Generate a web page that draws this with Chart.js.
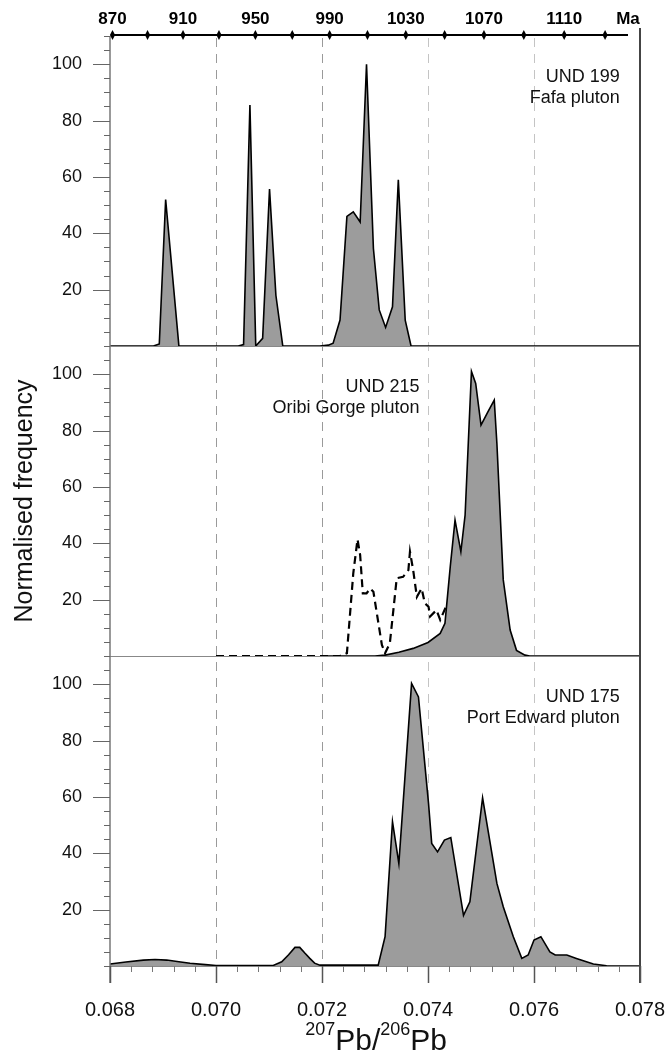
<!DOCTYPE html>
<html><head><meta charset="utf-8">
<script src="https://cdn.jsdelivr.net/npm/chart.js@4"></script>
<style>html,body{margin:0;padding:0;background:#fff}</style>
</head><body>
<canvas id="c" width="669" height="1057"></canvas>
<script>
// ---------- data ----------
const xTickValues = [0.068, 0.070, 0.072, 0.074, 0.076, 0.078];
const xGridValues = [0.070, 0.072, 0.074, 0.076];
const yTickLabels = [20, 40, 60, 80, 100];
const ageTicks = [870, 890, 910, 930, 950, 970, 990, 1010, 1030, 1050, 1070, 1090, 1110, 1130];
const ageLabels = [870, 910, 950, 990, 1030, 1070, 1110];

// UND 199 Fafa pluton
const p1X = [0.068, 0.06882, 0.06893, 0.06905, 0.0693, 0.07042, 0.07052, 0.07064, 0.07075, 0.07088, 0.07101, 0.07113, 0.07126, 0.07196, 0.07212, 0.07221, 0.07234, 0.07247, 0.07259, 0.07272, 0.07284, 0.07297, 0.07308, 0.0732, 0.07333, 0.07344, 0.07357, 0.07368, 0.078];
const p1Y = [0, 0, 0.7, 52, 0, 0, 0.5, 85.5, 0, 2.7, 55.7, 18, 0, 0, 0.3, 1, 9.2, 46, 47.6, 44, 100, 34.6, 12.8, 6.6, 13.9, 59, 9.2, 0, 0];

// UND 215 Oribi Gorge pluton (solid, filled)
const p2X = [0.072, 0.0730, 0.07319, 0.07345, 0.07372, 0.074, 0.07423, 0.07432, 0.07442, 0.07451, 0.07462, 0.0747, 0.07482, 0.0749, 0.075, 0.07512, 0.07525, 0.0753, 0.07542, 0.07555, 0.07567, 0.07583, 0.07592, 0.078];
const p2Y = [0, 0, 0.3, 1.3, 2.7, 4.8, 8, 11.6, 31.7, 48.2, 37, 50, 101, 96.7, 81.9, 86.3, 90.8, 75.4, 27, 9.2, 2, 0.3, 0, 0];
// UND 215 (dashed)
const p2dX = [0.070, 0.07234, 0.07247, 0.07259, 0.07267, 0.07272, 0.07277, 0.07284, 0.07291, 0.07297, 0.07313, 0.07319, 0.07328, 0.07341, 0.07353, 0.07363, 0.07366, 0.07372, 0.07379, 0.07388, 0.07394, 0.07401, 0.07404, 0.07416, 0.07423, 0.07434];
const p2dY = [0, 0, 1, 29.3, 41.4, 35.8, 22.2, 22.2, 24, 22.8, 3.9, 1, 4.5, 27.6, 28.1, 30.5, 37, 30.5, 21, 24, 18.7, 17.5, 14, 16.3, 12.8, 17.5];

// UND 175 Port Edward pluton
const p3X = [0.068, 0.0683, 0.06863, 0.06885, 0.06907, 0.0693, 0.06951, 0.0698, 0.070, 0.07108, 0.07124, 0.07137, 0.07149, 0.07158, 0.07168, 0.07177, 0.07186, 0.07196, 0.07306, 0.07319, 0.07333, 0.07345, 0.07369, 0.07382, 0.07401, 0.07407, 0.07418, 0.07431, 0.07443, 0.07467, 0.07479, 0.07503, 0.0753, 0.07542, 0.07561, 0.07577, 0.07589, 0.076, 0.07613, 0.0763, 0.0764, 0.07662, 0.0768, 0.07712, 0.07737, 0.078];
const p3Y = [0.7, 1.4, 2.1, 2.3, 2.1, 1.5, 1.0, 0.5, 0.2, 0.2, 1.5, 4, 6.6, 6.6, 4.5, 2.7, 1, 0.3, 0.3, 10.4, 51.2, 36.4, 100.3, 95.5, 57.7, 43.5, 40.5, 44.7, 45.6, 18, 22.8, 59.7, 29.3, 21, 10.4, 2.7, 3.9, 9.2, 10.4, 5, 3.9, 3.9, 2.7, 0.7, 0.1, 0];

const panelTexts = [["UND 199", "Fafa pluton"], ["UND 215", "Oribi Gorge pluton"], ["UND 175", "Port Edward pluton"]];

// ---------- helpers ----------
const FONT = '"Liberation Sans", Arial, Helvetica, sans-serif';
const L238 = 1.55125e-10, L235 = 9.8485e-10, U85 = 137.88;
function ageToRatio(ma) { const t = ma * 1e6; return (Math.exp(L235 * t) - 1) / (U85 * (Math.exp(L238 * t) - 1)); }
const pts = (xs, ys) => xs.map((x, i) => ({ x, y: ys[i] }));

function yAxis() {
  return {
    type: 'linear', position: 'left', stack: 'panels', stackWeight: 1, min: 0, max: 110, offset: false,
    afterBuildTicks: s => { s.ticks = yTickLabels.map(v => ({ value: v })); },
    ticks: { font: { size: 18, family: FONT }, color: '#111', padding: 11 },
    grid: { display: false, drawTicks: true, tickLength: 17 },
    border: { display: false },
    afterFit: s => { s.width = 110; }
  };
}

const deco = {
  id: 'deco',
  beforeDatasetsDraw(chart) {
    const ctx = chart.ctx, xs = chart.scales.x, a = chart.chartArea;
    ctx.save();
    ctx.lineWidth = 1;
    ctx.setLineDash([9, 7]);
    xGridValues.forEach(v => {
      ctx.strokeStyle = v < 0.073 ? '#9a9a9a' : '#c4c4c4';
      const px = Math.round(xs.getPixelForValue(v)) + 0.5;
      ctx.beginPath(); ctx.moveTo(px, a.top + 2); ctx.lineTo(px, a.bottom); ctx.stroke();
    });
    ctx.setLineDash([]);
    ctx.strokeStyle = '#888';
    ['y1', 'y2', 'y3'].forEach(id => {
      const y = Math.round(chart.scales[id].getPixelForValue(0)) + 0.5;
      ctx.beginPath(); ctx.moveTo(a.left, y); ctx.lineTo(a.right, y); ctx.stroke();
    });
    ctx.restore();
  },
  afterDraw(chart) {
    const ctx = chart.ctx, xs = chart.scales.x, a = chart.chartArea;
    ctx.save();
    // left axis
    ctx.strokeStyle = '#777'; ctx.lineWidth = 1.5;
    ctx.beginPath(); ctx.moveTo(a.left, a.top); ctx.lineTo(a.left, a.bottom + 17); ctx.stroke();
    // right axis
    ctx.strokeStyle = '#444'; ctx.lineWidth = 2;
    ctx.beginPath(); ctx.moveTo(a.right, a.top - 8); ctx.lineTo(a.right, a.bottom + 17); ctx.stroke();
    // y ticks
    ctx.strokeStyle = '#666'; ctx.lineWidth = 1;
    ['y1', 'y2', 'y3'].forEach(id => {
      const s = chart.scales[id];
      for (let v = 0; v <= 110; v += 5) {
        const len = (v % 20 === 0 && v > 0 && v <= 100) ? 17 : 6;
        const y = Math.round(s.getPixelForValue(v)) + 0.5;
        ctx.beginPath(); ctx.moveTo(a.left - len, y); ctx.lineTo(a.left, y); ctx.stroke();
      }
    });
    // x ticks (bottom)
    for (let k = 0; k <= 25; k++) {
      const v = 0.068 + k * 0.0004;
      const major = xTickValues.some(t => Math.abs(t - v) < 1e-7);
      const px = Math.round(xs.getPixelForValue(v)) + 0.5;
      ctx.strokeStyle = major ? '#555' : '#777';
      ctx.lineWidth = major ? 1.5 : 1;
      ctx.beginPath(); ctx.moveTo(px, a.bottom); ctx.lineTo(px, a.bottom + (major ? 17 : 6)); ctx.stroke();
    }
    // Ma axis on top
    const axY = a.top - 1;
    const x0 = xs.getPixelForValue(ageToRatio(ageTicks[0]));
    const xEnd = a.right - 12;
    ctx.strokeStyle = '#000'; ctx.lineWidth = 2;
    ctx.beginPath(); ctx.moveTo(x0, axY); ctx.lineTo(xEnd, axY); ctx.stroke();
    ctx.fillStyle = '#000';
    ageTicks.forEach(age => {
      const px = xs.getPixelForValue(ageToRatio(age));
      ctx.beginPath(); ctx.moveTo(px, axY - 5); ctx.lineTo(px + 2.6, axY); ctx.lineTo(px, axY + 5); ctx.lineTo(px - 2.6, axY); ctx.closePath(); ctx.fill();
    });
    ctx.font = 'bold 17px ' + FONT; ctx.textAlign = 'center'; ctx.textBaseline = 'alphabetic';
    ageLabels.forEach(age => { ctx.fillText(String(age), xs.getPixelForValue(ageToRatio(age)), 23.5); });
    ctx.fillText('Ma', xEnd, 23.5);
    // panel annotations
    ctx.font = '18px ' + FONT; ctx.textAlign = 'right'; ctx.fillStyle = '#111';
    const annX = [0.07762, 0.07384, 0.07762];
    ['y1', 'y2', 'y3'].forEach((id, i) => {
      const s = chart.scales[id];
      const px = xs.getPixelForValue(annX[i]);
      const top = s.getPixelForValue(110);
      ctx.fillText(panelTexts[i][0], px, top + 46);
      ctx.fillText(panelTexts[i][1], px, top + 67);
    });
    // y title
    ctx.save();
    ctx.translate(25, (a.top + a.bottom) / 2);
    ctx.rotate(-Math.PI / 2);
    ctx.font = '25px ' + FONT; ctx.textAlign = 'center'; ctx.textBaseline = 'middle'; ctx.fillStyle = '#111';
    ctx.fillText('Normalised frequency', 0, 0);
    ctx.restore();
    // x title with superscripts
    const parts = [['207', 18, -15], ['Pb/', 30, 0], ['206', 18, -15], ['Pb', 30, 0]];
    let total = 0;
    parts.forEach(p => { ctx.font = p[1] + 'px ' + FONT; total += ctx.measureText(p[0]).width; });
    let cx = xs.getPixelForValue(0.07302) - total / 2;
    ctx.textAlign = 'left'; ctx.textBaseline = 'alphabetic'; ctx.fillStyle = '#111';
    parts.forEach(p => { ctx.font = p[1] + 'px ' + FONT; ctx.fillText(p[0], cx, 1050 + p[2]); cx += ctx.measureText(p[0]).width; });
    ctx.restore();
  }
};

const FILL = '#9c9c9c';
new Chart(document.getElementById('c'), {
  type: 'line',
  data: {
    datasets: [
      { label: 'UND 215 dashed', data: pts(p2dX, p2dY), yAxisID: 'y2', borderColor: '#000', borderWidth: 2.2, borderDash: [8, 5], fill: false, pointRadius: 0, tension: 0, order: 0 },
      { label: 'UND 199', data: pts(p1X, p1Y), yAxisID: 'y1', borderColor: '#000', borderWidth: 1.6, backgroundColor: FILL, fill: 'origin', pointRadius: 0, tension: 0, order: 1 },
      { label: 'UND 215', data: pts(p2X, p2Y), yAxisID: 'y2', borderColor: '#000', borderWidth: 1.6, backgroundColor: FILL, fill: 'origin', pointRadius: 0, tension: 0, order: 1 },
      { label: 'UND 175', data: pts(p3X, p3Y), yAxisID: 'y3', borderColor: '#000', borderWidth: 1.6, backgroundColor: FILL, fill: 'origin', pointRadius: 0, tension: 0, order: 1 }
    ]
  },
  options: {
    responsive: false, animation: false,
    layout: { padding: { left: 0, right: 29, top: 36, bottom: 0 } },
    plugins: { legend: { display: false }, tooltip: { enabled: false } },
    scales: {
      x: {
        type: 'linear', position: 'bottom', min: 0.068, max: 0.078,
        afterBuildTicks: s => { s.ticks = xTickValues.map(v => ({ value: v })); },
        ticks: { callback: v => v.toFixed(3), font: { size: 20, family: FONT }, color: '#111', padding: 0, maxRotation: 0, autoSkip: false },
        grid: { display: false, drawTicks: true, tickLength: 32 },
        border: { display: false },
        afterFit: s => { s.height = 91; }
      },
      y3: yAxis(),
      y2: yAxis(),
      y1: yAxis()
    }
  },
  plugins: [deco]
});
</script>
</body></html>
